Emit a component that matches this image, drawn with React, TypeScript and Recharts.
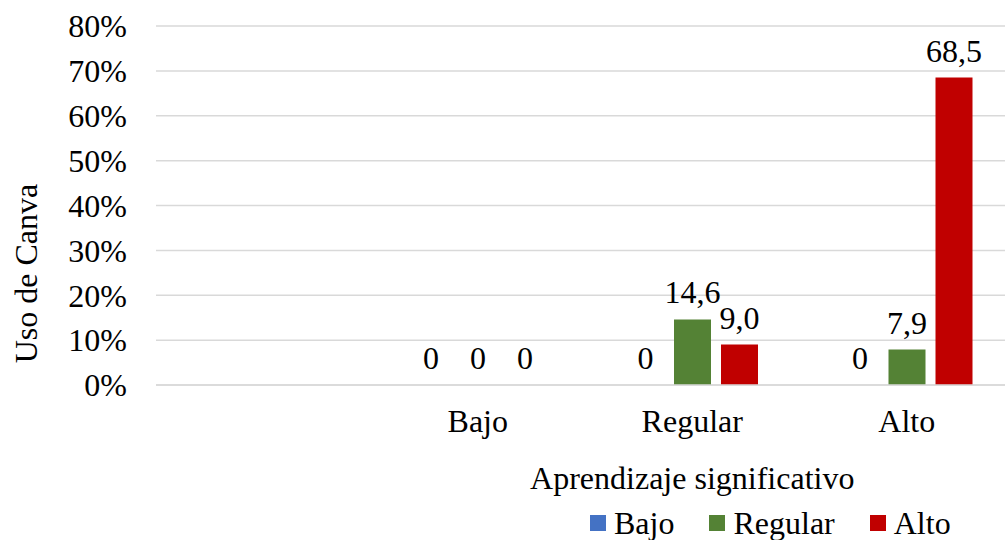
import React from "react";
import {
  Bar,
  BarChart,
  CartesianGrid,
  LabelList,
  Legend,
  XAxis,
  YAxis,
} from "recharts";

const categories = ["", "Bajo", "Regular", "Alto"];
const seriesNames = ["Bajo", "Regular", "Alto"];
const bajo = [null, 0, 0, 0];
const regular = [null, 0, 14.6, 7.9];
const alto = [null, 0, 9.0, 68.5];
const yTicks = [0, 10, 20, 30, 40, 50, 60, 70, 80];

const data = categories.map((name, i) => ({
  name,
  Bajo: bajo[i],
  Regular: regular[i],
  Alto: alto[i],
}));

const font = "'Liberation Serif', 'Times New Roman', serif";
const fs = 32;
const grid = "#d9d9d9";
const colors: Record<string, string> = { Bajo: "#4472C4", Regular: "#548235", Alto: "#C00000" };

const fmt = (v: any) => {
  if (v === null || v === undefined) return "";
  return v === 0 ? "0" : Number(v).toFixed(1).replace(".", ",");
};

// zero bars still need a rect so their "0" label is drawn
const zeroSize = (v: any) => (v === 0 ? 0.01 : 0);

const ValueLabel = (props: any) => {
  const { x, y, width, value } = props;
  if (value === null || value === undefined) return null;
  return (
    <text x={x + width / 2} y={y - 16} textAnchor="middle" fontSize={fs} fontFamily={font} fill="#000">
      {fmt(value)}
    </text>
  );
};

const LegendContent = () => (
  <div style={{ display: "flex", gap: 35, fontFamily: font, fontSize: fs, lineHeight: "32px", color: "#000" }}>
    {seriesNames.map((s) => (
      <span key={s} style={{ display: "flex", alignItems: "center" }}>
        <span style={{ width: 16, height: 16, background: colors[s], marginRight: 8, display: "inline-block" }} />
        {s}
      </span>
    ))}
  </div>
);

const App = () => {
  return (
    <div style={{ position: "absolute", left: 0, top: 0, width: 1005, height: 540, background: "#fff" }}>
      <BarChart
        width={1005}
        height={540}
        data={data}
        margin={{ top: 26, right: -9, left: 0, bottom: 33 }}
        barGap={10}
        style={{ fontFamily: font }}
      >
        <CartesianGrid vertical={false} stroke={grid} strokeWidth={1.5} />
        <XAxis
          dataKey="name"
          height={90}
          tickLine={false}
          tickSize={0}
          tickMargin={24}
          axisLine={{ stroke: grid, strokeWidth: 1.5 }}
          tick={{ fill: "#000", fontSize: fs, fontFamily: font }}
          label={{
            content: ({ viewBox }: any) => (
              <text
                x={viewBox.x + viewBox.width * 0.625}
                y={viewBox.y + 104}
                textAnchor="middle"
                fontSize={fs}
                fontFamily={font}
                fill="#000"
              >
                Aprendizaje significativo
              </text>
            ),
          }}
        />
        <YAxis
          width={156}
          domain={[0, 80]}
          ticks={yTicks}
          axisLine={false}
          tickLine={false}
          tickSize={0}
          tickMargin={29}
          tickFormatter={(v) => `${v}%`}
          tick={{ fill: "#000", fontSize: fs, fontFamily: font }}
          label={{
            content: ({ viewBox }: any) => (
              <text
                x={26}
                y={viewBox.y + viewBox.height / 2 + 68}
                textAnchor="middle"
                dominantBaseline="central"
                transform={`rotate(-90, 26, ${viewBox.y + viewBox.height / 2 + 68})`}
                fontSize={fs}
                fontFamily={font}
                fill="#000"
              >
                Uso de Canva
              </text>
            ),
          }}
        />
        <Legend
          verticalAlign="bottom"
          content={<LegendContent />}
          wrapperStyle={{ left: 590, width: 400, bottom: 1 }}
        />
        <Bar dataKey="Bajo" fill={colors.Bajo} barSize={37} minPointSize={zeroSize} isAnimationActive={false}>
          <LabelList dataKey="Bajo" content={ValueLabel} />
        </Bar>
        <Bar dataKey="Regular" fill={colors.Regular} barSize={37} minPointSize={zeroSize} isAnimationActive={false}>
          <LabelList dataKey="Regular" content={ValueLabel} />
        </Bar>
        <Bar dataKey="Alto" fill={colors.Alto} barSize={37} minPointSize={zeroSize} isAnimationActive={false}>
          <LabelList dataKey="Alto" content={ValueLabel} />
        </Bar>
      </BarChart>
    </div>
  );
};

export default App;
